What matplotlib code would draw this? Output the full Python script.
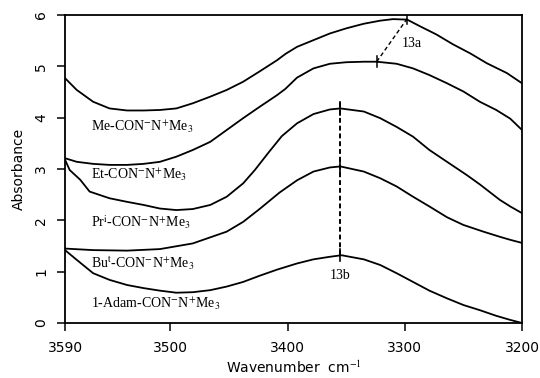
import numpy as np
from matplotlib import pyplot as plt

# Wavenumbers (cm-1) and absorbance
wn_me = [3590, 3580, 3566, 3552, 3537, 3523, 3509, 3495, 3481, 3466, 3452, 3438,
         3424, 3409, 3402, 3392, 3378, 3364, 3350, 3335, 3321, 3310, 3298, 3287,
         3273, 3259, 3244, 3230, 3213, 3200]
ab_me = [4.77, 4.54, 4.31, 4.18, 4.14, 4.14, 4.15, 4.18, 4.28, 4.41, 4.54, 4.70,
         4.90, 5.12, 5.24, 5.38, 5.51, 5.64, 5.74, 5.83, 5.89, 5.92, 5.91, 5.78,
         5.62, 5.43, 5.25, 5.06, 4.87, 4.67]

wn_et = [3590, 3580, 3566, 3552, 3537, 3523, 3509, 3495, 3481, 3466, 3452, 3438,
         3424, 3409, 3402, 3392, 3378, 3364, 3350, 3335, 3324, 3307, 3293, 3279,
         3264, 3250, 3236, 3222, 3210, 3200]
ab_et = [3.21, 3.14, 3.10, 3.08, 3.08, 3.10, 3.14, 3.24, 3.37, 3.53, 3.76, 3.99,
         4.21, 4.44, 4.56, 4.78, 4.96, 5.05, 5.08, 5.09, 5.09, 5.05, 4.96, 4.83,
         4.67, 4.51, 4.31, 4.15, 3.98, 3.76]

wn_pr = [3590, 3586, 3577, 3569, 3552, 3537, 3523, 3509, 3495, 3481, 3466, 3452,
         3438, 3428, 3416, 3405, 3392, 3378, 3364, 3355, 3335, 3321, 3307, 3293,
         3279, 3264, 3247, 3236, 3219, 3210, 3200]
ab_pr = [3.18, 2.98, 2.79, 2.56, 2.43, 2.36, 2.30, 2.23, 2.20, 2.22, 2.30, 2.46,
         2.72, 2.98, 3.33, 3.64, 3.89, 4.07, 4.16, 4.18, 4.12, 3.99, 3.82, 3.63,
         3.37, 3.14, 2.88, 2.70, 2.40, 2.27, 2.14]

wn_bu = [3590, 3566, 3537, 3509, 3481, 3452, 3438, 3424, 3407, 3392, 3378, 3364,
         3355, 3335, 3321, 3307, 3293, 3279, 3264, 3250, 3233, 3219, 3210, 3200]
ab_bu = [1.45, 1.42, 1.41, 1.44, 1.55, 1.78, 1.97, 2.22, 2.54, 2.78, 2.95, 3.03,
         3.05, 2.95, 2.82, 2.66, 2.46, 2.27, 2.06, 1.91, 1.78, 1.68, 1.62, 1.56]

wn_ad = [3590, 3580, 3566, 3552, 3537, 3523, 3509, 3495, 3481, 3466, 3452, 3438,
         3424, 3409, 3392, 3378, 3364, 3354, 3335, 3321, 3307, 3293, 3279, 3264,
         3250, 3236, 3222, 3210, 3200]
ab_ad = [1.42, 1.23, 0.97, 0.84, 0.74, 0.68, 0.63, 0.59, 0.60, 0.64, 0.71, 0.80,
         0.92, 1.04, 1.16, 1.24, 1.29, 1.32, 1.24, 1.13, 0.97, 0.80, 0.63, 0.48,
         0.35, 0.25, 0.14, 0.06, 0.0]

labels = [r'Me-CON$^{-}$N$^{+}$Me$_3$', r'Et-CON$^{-}$N$^{+}$Me$_3$',
          r'Pr$^{\rm i}$-CON$^{-}$N$^{+}$Me$_3$', r'Bu$^{\rm t}$-CON$^{-}$N$^{+}$Me$_3$',
          r'1-Adam-CON$^{-}$N$^{+}$Me$_3$']
label_y = [3.82, 2.88, 1.97, 1.16, 0.38]

xticks = [3590, 3500, 3400, 3300, 3200]
yticks = [0, 1, 2, 3, 4, 5, 6]

# band markers
peak_a = [(3298, 5.93), (3324, 5.09)]
peak_b_x = 3355
peak_b_y = [4.18, 3.05, 1.32]

plt.rcParams['mathtext.fontset'] = 'stix'

fig = plt.figure(figsize=(5.4, 3.78), dpi=100)
ax = fig.add_axes([0.1204, 0.1455, 0.8463, 0.8148])

for wn, ab in [(wn_me, ab_me), (wn_et, ab_et), (wn_pr, ab_pr),
               (wn_bu, ab_bu), (wn_ad, ab_ad)]:
    ax.plot(wn, ab, color='black', lw=1.3)

for lab, y in zip(labels, label_y):
    ax.text(3568, y, lab, fontsize=10, family='Liberation Serif', va='center', ha='left')

# 13a: dashed line between the two shifted maxima
ax.plot([peak_a[0][0], peak_a[1][0]], [peak_a[0][1], peak_a[1][1]],
        ls=(0, (3, 2)), color='black', lw=1.0)
for x, y in peak_a:
    ax.plot([x, x], [y - 0.11, y + 0.11], color='black', lw=1.1)
ax.text(3294, 5.45, '13a', fontsize=10, family='Liberation Serif', ha='center', va='center')

# 13b: vertical dotted line through the common maxima
ax.plot([peak_b_x, peak_b_x], [peak_b_y[-1], 4.31], ls=(0, (2.5, 1.5)),
        color='black', lw=1.4)
for y in peak_b_y:
    ax.plot([peak_b_x, peak_b_x], [y - 0.12, y + 0.12], color='black', lw=1.2)
ax.text(peak_b_x, 0.93, '13b', fontsize=10, family='Liberation Serif', ha='center', va='center')

ax.set_xlim(3590, 3200)
ax.set_ylim(0, 6)
ax.set_xticks(xticks)
ax.set_yticks(yticks)
ax.tick_params(axis='both', length=6, width=1.1, direction='out', labelsize=10)
ax.tick_params(axis='y', labelrotation=90, pad=6)
ax.tick_params(axis='x', pad=7)
for lab in ax.get_yticklabels():
    lab.set_va('center')
ax.set_xlabel(r'Wavenumber  cm$^{-1}$', fontsize=10, labelpad=3)
ax.set_ylabel('Absorbance', fontsize=10, labelpad=6)
for s in ax.spines.values():
    s.set_linewidth(1.3)

fig.savefig('out.png', dpi=100)
